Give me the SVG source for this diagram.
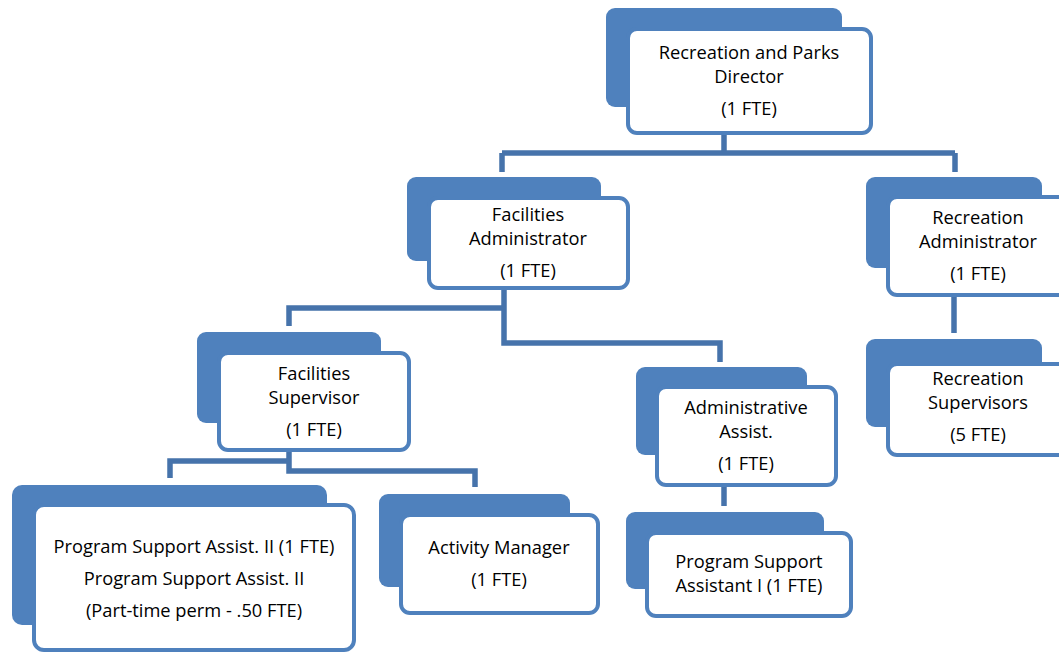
<svg xmlns="http://www.w3.org/2000/svg" width="1059" height="652" viewBox="0 0 1059 652">
<style>
.back{fill:#4F81BD;}
.front{fill:#FFFFFF;stroke:#4F81BD;stroke-width:4;}
.conn{fill:none;stroke:#4673AB;stroke-width:5.5;}
text{font-family:"Open Sans","Liberation Sans",sans-serif;font-size:18.3px;fill:#000;text-anchor:middle;}
</style>
<rect width="1059" height="652" fill="#FFFFFF"/>
<g id="connectors">
<path class="conn" d="M724,135 V153 M502,153 H955 M502,153 V172 M955,153 V172"/>
<path class="conn" d="M504,290 V343 H720 V362 M504,308 H289 V326"/>
<path class="conn" d="M954,297 V333"/>
<path class="conn" d="M289,452 V471 H475 V487 M289,461 H170 V478"/>
<path class="conn" d="M724,487 V506"/>
</g>
<g id="director">
<rect class="back" x="606" y="8" width="236" height="99" rx="9"/>
<rect class="front" x="628" y="29" width="243" height="104" rx="9"/>
<text x="749" y="59">Recreation and Parks</text>
<text x="749" y="83">Director</text>
<text x="749" y="115">(1 FTE)</text>
</g>
<g id="facilities-admin">
<rect class="back" x="407" y="177" width="194" height="84" rx="9"/>
<rect class="front" x="429" y="198" width="199" height="90" rx="9"/>
<text x="528" y="221">Facilities</text>
<text x="528" y="245">Administrator</text>
<text x="528" y="277">(1 FTE)</text>
</g>
<g id="recreation-admin">
<rect class="back" x="866" y="177" width="176" height="91" rx="9"/>
<rect class="front" x="888" y="197" width="182" height="98" rx="9"/>
<text x="978" y="224">Recreation</text>
<text x="978" y="248">Administrator</text>
<text x="978" y="280">(1 FTE)</text>
</g>
<g id="recreation-supervisors">
<rect class="back" x="866" y="339" width="176" height="88" rx="9"/>
<rect class="front" x="888" y="364" width="182" height="91" rx="9"/>
<text x="978" y="385">Recreation</text>
<text x="978" y="409">Supervisors</text>
<text x="978" y="441">(5 FTE)</text>
</g>
<g id="facilities-supervisor">
<rect class="back" x="197" y="332" width="184" height="91" rx="9"/>
<rect class="front" x="219" y="353" width="190" height="97" rx="9"/>
<text x="314" y="380">Facilities</text>
<text x="314" y="404">Supervisor</text>
<text x="314" y="436">(1 FTE)</text>
</g>
<g id="administrative-assist">
<rect class="back" x="636" y="367" width="171" height="88" rx="9"/>
<rect class="front" x="657" y="387" width="179" height="98" rx="9"/>
<text x="746" y="414">Administrative</text>
<text x="746" y="438">Assist.</text>
<text x="746" y="470">(1 FTE)</text>
</g>
<g id="program-support-ii">
<rect class="back" x="12" y="485" width="315" height="140" rx="10"/>
<rect class="front" x="34" y="505" width="320" height="145" rx="10"/>
<text x="194" y="553">Program Support Assist. II (1 FTE)</text>
<text x="194" y="585">Program Support Assist. II</text>
<text x="194" y="617">(Part-time perm - .50 FTE)</text>
</g>
<g id="activity-manager">
<rect class="back" x="379" y="494" width="191" height="93" rx="9"/>
<rect class="front" x="401" y="515" width="197" height="98" rx="9"/>
<text x="499" y="554">Activity Manager</text>
<text x="499" y="586">(1 FTE)</text>
</g>
<g id="program-support-i">
<rect class="back" x="626" y="512" width="198" height="77" rx="9"/>
<rect class="front" x="647" y="533" width="204" height="83" rx="9"/>
<text x="749" y="568">Program Support</text>
<text x="749" y="592">Assistant I (1 FTE)</text>
</g>
</svg>
